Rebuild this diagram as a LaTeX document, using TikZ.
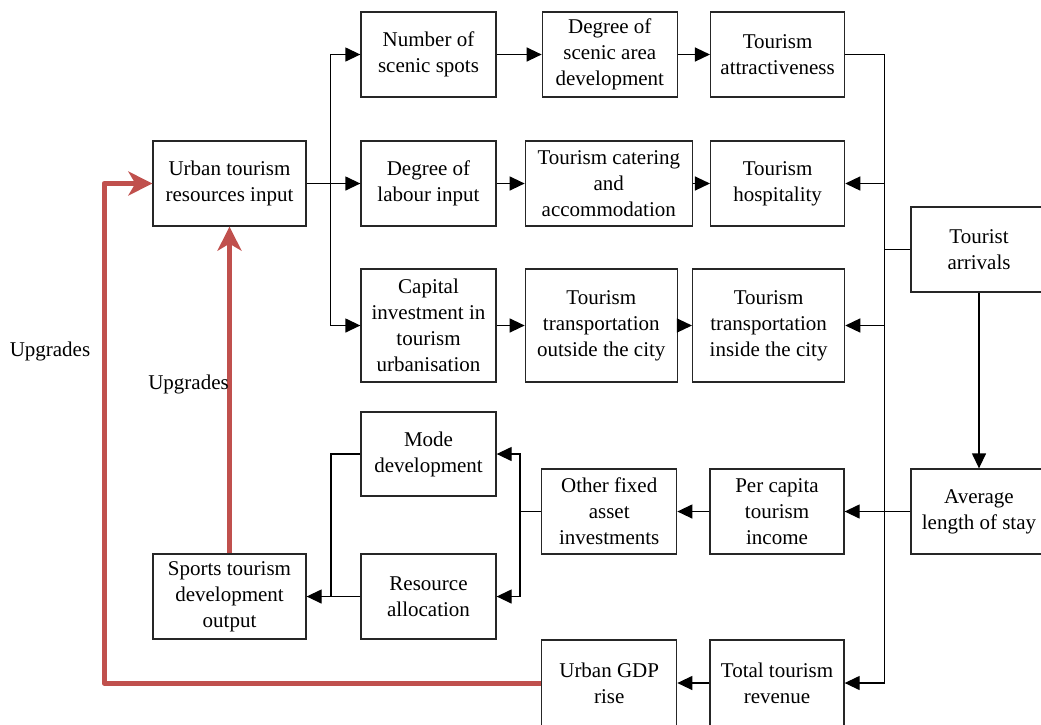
\documentclass[tikz,border=0pt]{standalone}
\usepackage{fontspec}
\setmainfont{Liberation Serif}
\usepackage{tikz}
\usetikzlibrary{arrows.meta,positioning}
\usepackage{xcolor}
\definecolor{upred}{RGB}{192,80,77}

\begin{document}
\begin{tikzpicture}[
    x=1pt, y=-1pt,
    box/.style={draw=black!85, line width=1.3pt, minimum height=85pt, align=center, inner sep=2pt, font=\fontsize{21}{26}\selectfont},
    arrow/.style={-{Triangle[length=15pt,width=14pt]}, line width=1.3pt},
    link/.style={line width=1.3pt},
    upgrade/.style={-{Stealth[length=24pt,width=24pt,inset=7pt]}, upred, line width=5pt, line join=round},
    lbl/.style={font=\fontsize{21}{26}\selectfont}
]
\useasboundingbox (0,0) rectangle (1041,724);

% ========== RESOURCES INPUT (LEFT) ==========
\node[box, minimum width=153pt] (urban) at (229.5,183.5) {Urban tourism\\resources input};

% ========== THREE INPUT ROWS (TOP) ==========
\node[box, minimum width=135pt] (spots) at (428.5,54.5) {Number of\\scenic spots};
\node[box, minimum width=135pt, right=45pt of spots] (areadev) {Degree of\\scenic area\\development};
\node[box, minimum width=134pt, right=32pt of areadev] (attract) {Tourism\\attractiveness};

\node[box, minimum width=135pt] (labour) at (428.5,183.5) {Degree of\\labour input};
\node[box, minimum width=167pt, right=28pt of labour] (catering) {Tourism catering\\and\\accommodation};
\node[box, minimum width=134pt, right=17pt of catering] (hospit) {Tourism\\hospitality};

\node[box, minimum width=135pt, minimum height=113pt] (capital) at (428.5,325.5) {Capital\\investment in\\tourism\\urbanisation};
\node[box, minimum width=152pt, minimum height=113pt, right=28pt of capital] (outside) {Tourism\\transportation\\outside the city};
\node[box, minimum width=152pt, minimum height=113pt, right=14pt of outside] (inside) {Tourism\\transportation\\inside the city};

% ========== TOURIST FLOW (RIGHT) ==========
\node[box, minimum width=136pt] (arrivals) at (979,249.5) {Tourist\\arrivals};
\node[box, minimum width=136pt] (stay) at (979,511.5) {Average\\length of stay};

% ========== INCOME AND OUTPUT (BOTTOM) ==========
\node[box, minimum width=134pt] (percap) at (777,511.5) {Per capita\\tourism\\income};
\node[box, minimum width=135pt, left=32pt of percap] (fixed) {Other fixed\\asset\\investments};
\node[box, minimum width=135pt, minimum height=84pt] (mode) at (428.5,454) {Mode\\development};
\node[box, minimum width=135pt] (alloc) at (428.5,596.5) {Resource\\allocation};
\node[box, minimum width=153pt] (sports) at (229.5,596.5) {Sports tourism\\development\\output};
\node[box, minimum width=134pt, minimum height=86pt] (revenue) at (777,683) {Total tourism\\revenue};
\node[box, minimum width=135pt, minimum height=86pt, left=32pt of revenue] (gdp) {Urban GDP\\rise};

% ========== CONNECTORS ==========
% split of the resources input
\coordinate (split) at (330.5,183.5);
\draw[link] (urban.east) -- (split);
\draw[arrow] (split) |- (spots.west);
\draw[arrow] (split) -- (labour.west);
\draw[arrow] (split) |- (capital.west);

% rows
\draw[arrow] (spots) -- (areadev);
\draw[arrow] (areadev) -- (attract);
\draw[arrow] (labour) -- (catering);
\draw[arrow] (catering) -- (hospit);
\draw[arrow] (capital) -- (outside);
\draw[arrow] (outside) -- (inside);

% right bus
\coordinate (bus) at (884.5,54.5);
\draw[arrow] (attract.east) -- (bus) |- (revenue.east);
\draw[arrow] (bus |- hospit.east) -- (hospit.east);
\draw[arrow] (bus |- inside.east) -- (inside.east);
\draw[link] (arrivals.west) -- (bus |- arrivals.west);
\draw[arrow] (arrivals) -- (stay);
\draw[arrow] (stay) -- (percap);
\draw[arrow] (percap) -- (fixed);

% investments to development output
\coordinate (fork) at (520,511.5);
\draw[link] (fixed.west) -- (fork);
\draw[arrow] (fork) |- (mode.east);
\draw[arrow] (fork) |- (alloc.east);
\coordinate (join) at (331,596.5);
\draw[link] (mode.west) -| (join);
\draw[arrow] (alloc) -- (sports);
\draw[arrow] (revenue) -- (gdp);

% ========== UPGRADE LOOPS (RED) ==========
\coordinate (loop) at (104,683);
\draw[upgrade] (gdp.west) -- (loop) |- (urban.west);
\draw[upgrade] (sports.north) -- (urban.south);
\node[lbl] (upleft) at (50,351) {Upgrades};
\node[lbl, anchor=east, inner sep=0pt] (upmid) at (229,384) {Upgrades};

\end{tikzpicture}
\end{document}
